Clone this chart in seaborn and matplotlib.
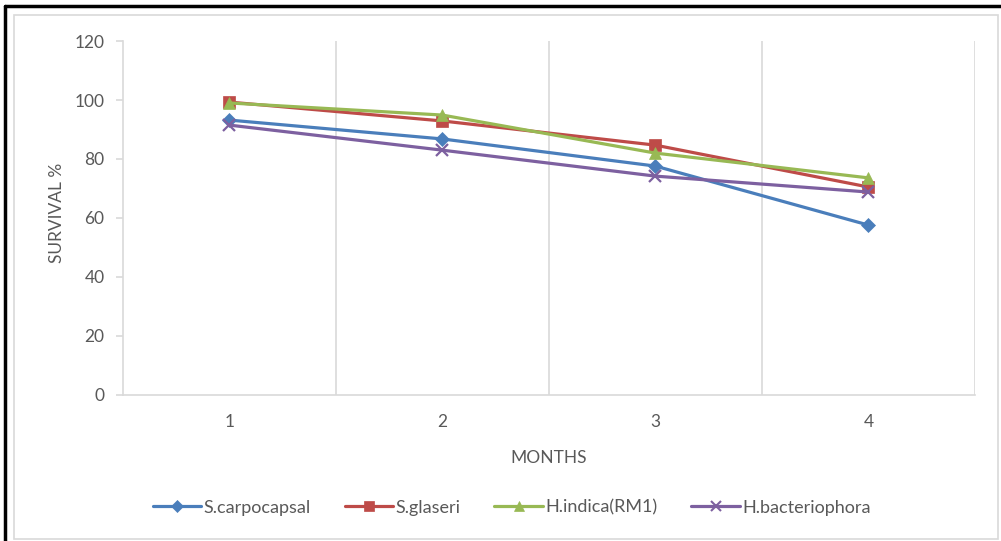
import matplotlib
matplotlib.use("Agg")
import matplotlib.pyplot as plt
import seaborn as sns
import pandas as pd
from matplotlib.lines import Line2D
from matplotlib.patches import Rectangle

months = [1, 2, 3, 4]
series_names = ["S.carpocapsal", "S.glaseri", "H.indica(RM1)", "H.bacteriophora"]
s_carpocapsal = [93.2, 86.8, 77.6, 57.6]
s_glaseri = [99.3, 92.9, 84.7, 70.5]
h_indica = [99.0, 94.9, 82.0, 73.6]
h_bacteriophora = [91.5, 83.0, 74.2, 68.8]
y_ticks = [0, 20, 40, 60, 80, 100, 120]

colors = ["#4A7EBB", "#BE4B48", "#98B954", "#7D60A0"]
markers = ["D", "s", "^", "x"]
msizes = [7, 8.5, 9, 9]

rows = []
for name, vals in zip(series_names, [s_carpocapsal, s_glaseri, h_indica, h_bacteriophora]):
    for m, v in zip(months, vals):
        rows.append({"Month": m, "Survival": v, "Series": name})
df = pd.DataFrame(rows)

sns.set_theme(style="white")
plt.rcParams["font.family"] = ["Lato", "DejaVu Sans"]
textc = "#595959"
gridc = "#D9D9D9"
fs = 12.5

fig = plt.figure(figsize=(10.01, 5.41), dpi=100)
ax = fig.add_axes([0.1225, 0.2699, 0.974 - 0.1225, 0.9242 - 0.2699])

for name, c, mk, ms in zip(series_names, colors, markers, msizes):
    sub = df[df["Series"] == name]
    sns.lineplot(data=sub, x="Month", y="Survival", ax=ax, color=c, linewidth=2.3,
                 marker=mk, markersize=ms, markeredgecolor=c,
                 markeredgewidth=1.6 if mk == "x" else 0.5, legend=False)

ax.set_xlim(0.5, 4.5)
ax.set_ylim(0, 120)
ax.set_yticks(y_ticks)
ax.set_xticks(months)
ax.set_xticklabels([str(m) for m in months])
for xv in [1.5, 2.5, 3.5, 4.5]:
    ax.axvline(xv, color=gridc, linewidth=1.2, zorder=0)
for s in ["top", "right"]:
    ax.spines[s].set_visible(False)
ax.spines["left"].set_color(gridc)
ax.spines["bottom"].set_color(gridc)
ax.spines["left"].set_linewidth(1.2)
ax.spines["bottom"].set_linewidth(1.2)
ax.tick_params(axis="y", length=5, color=gridc, width=1.2, labelsize=fs, labelcolor=textc, pad=8, left=True)
ax.tick_params(axis="x", length=0, labelsize=fs, labelcolor=textc, pad=14)
ax.set_xlabel("MONTHS", fontsize=fs, color=textc)
ax.xaxis.set_label_coords(0.5, -0.155)
ax.set_ylabel("SURVIVAL %", fontsize=fs, color=textc)
ax.yaxis.set_label_coords(-0.068, 0.515)

handles = [Line2D([0], [0], color=c, linewidth=2.3, marker=mk, markersize=ms * 0.85,
                  markeredgecolor=c, markeredgewidth=1.5 if mk == "x" else 0.5)
           for c, mk, ms in zip(colors, markers, msizes)]
leg = fig.legend(handles, series_names, loc="center", bbox_to_anchor=(0.511, 0.062), ncol=4,
                 frameon=False, fontsize=13, handlelength=2.7, handletextpad=0.1,
                 columnspacing=1.9, labelcolor=textc)

# inner light frame and outer black frame
fig.add_artist(Rectangle((14 / 1001, 1 - 539 / 541), (998 - 14) / 1001, (539 - 15) / 541,
                         transform=fig.transFigure, fill=False, edgecolor=gridc, linewidth=1.2))
fig.add_artist(Line2D([5 / 1001, 5 / 1001], [0, 1 - 6 / 541], transform=fig.transFigure,
                      color="black", linewidth=2.5))
fig.add_artist(Line2D([5 / 1001, 1], [1 - 6 / 541, 1 - 6 / 541], transform=fig.transFigure,
                      color="black", linewidth=2.5))

fig.savefig("out.png", dpi=100)
